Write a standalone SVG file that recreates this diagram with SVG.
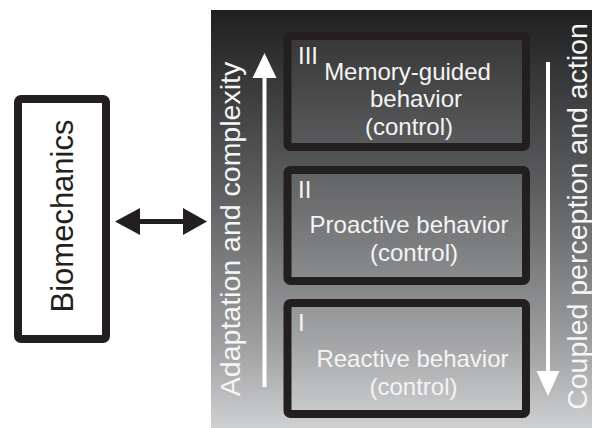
<svg xmlns="http://www.w3.org/2000/svg" width="592" height="428" viewBox="0 0 592 428">
  <defs>
    <linearGradient id="panelGrad" x1="0" y1="10" x2="0" y2="428" gradientUnits="userSpaceOnUse">
      <stop offset="0" stop-color="#202020"/>
      <stop offset="0.45" stop-color="#606163"/>
      <stop offset="0.8" stop-color="#9e9fa1"/>
      <stop offset="1" stop-color="#cfd0d2"/>
    </linearGradient>
    <style>
      .box { fill: #ffffff; fill-opacity: 0.07; stroke: #231f20; stroke-width: 8; }
      .bt { font-family: "Liberation Sans", Arial, sans-serif; font-size: 24px; fill: #f4f4f4; }
      .side { font-family: "Liberation Sans", Arial, sans-serif; font-size: 28.5px; fill: #f6f6f6; text-anchor: middle; }
      .mid { text-anchor: middle; }
      .warrow { fill: #ffffff; }
    </style>
  </defs>
  <rect x="0" y="0" width="592" height="428" fill="#ffffff"/>
  <rect id="panel" x="211" y="10" width="381" height="418" fill="url(#panelGrad)"/>

  <g id="biomechanics">
    <rect x="18" y="99" width="88" height="240" rx="3" fill="#ffffff" stroke="#231f20" stroke-width="8"/>
    <text transform="translate(73,216) rotate(-90)" font-family="Liberation Sans, Arial, sans-serif" font-size="31" fill="#231f20" text-anchor="middle">Biomechanics</text>
  </g>

  <g id="level3">
    <rect class="box" x="287.5" y="36" width="238.5" height="111" rx="3"/>
    <text class="bt" x="298" y="64">III</text>
    <text class="bt mid" x="407.5" y="80">Memory-guided</text>
    <text class="bt mid" x="416" y="107">behavior</text>
    <text class="bt mid" x="409" y="135">(control)</text>
  </g>

  <g id="level2">
    <rect class="box" x="287.5" y="170" width="238.5" height="111" rx="3"/>
    <text class="bt" x="298" y="198">II</text>
    <text class="bt mid" x="409" y="233">Proactive behavior</text>
    <text class="bt mid" x="414" y="261">(control)</text>
  </g>

  <g id="level1">
    <rect class="box" x="287.5" y="303" width="238.5" height="111" rx="3"/>
    <text class="bt" x="298" y="331">I</text>
    <text class="bt mid" x="412.5" y="367">Reactive behavior</text>
    <text class="bt mid" x="413.5" y="395">(control)</text>
  </g>

  <g id="axis-left">
    <text class="side" transform="translate(240,229) rotate(-90)">Adaptation and complexity</text>
  </g>
  <g id="axis-right">
    <text class="side" transform="translate(587,216.5) rotate(-90)">Coupled perception and action</text>
  </g>

  <g id="connectors">
    <polygon fill="#231f20" points="115,221.5 140,208 140,219 183,219 183,208 207,221.5 183,235 183,224 140,224 140,235"/>
    <rect class="warrow" x="262.5" y="76" width="4" height="311"/>
    <polygon class="warrow" points="264.5,53 276.5,78 252.5,78"/>
    <rect class="warrow" x="546" y="62" width="4" height="311"/>
    <polygon class="warrow" points="548,396 559.5,371 536.5,371"/>
  </g>
</svg>
